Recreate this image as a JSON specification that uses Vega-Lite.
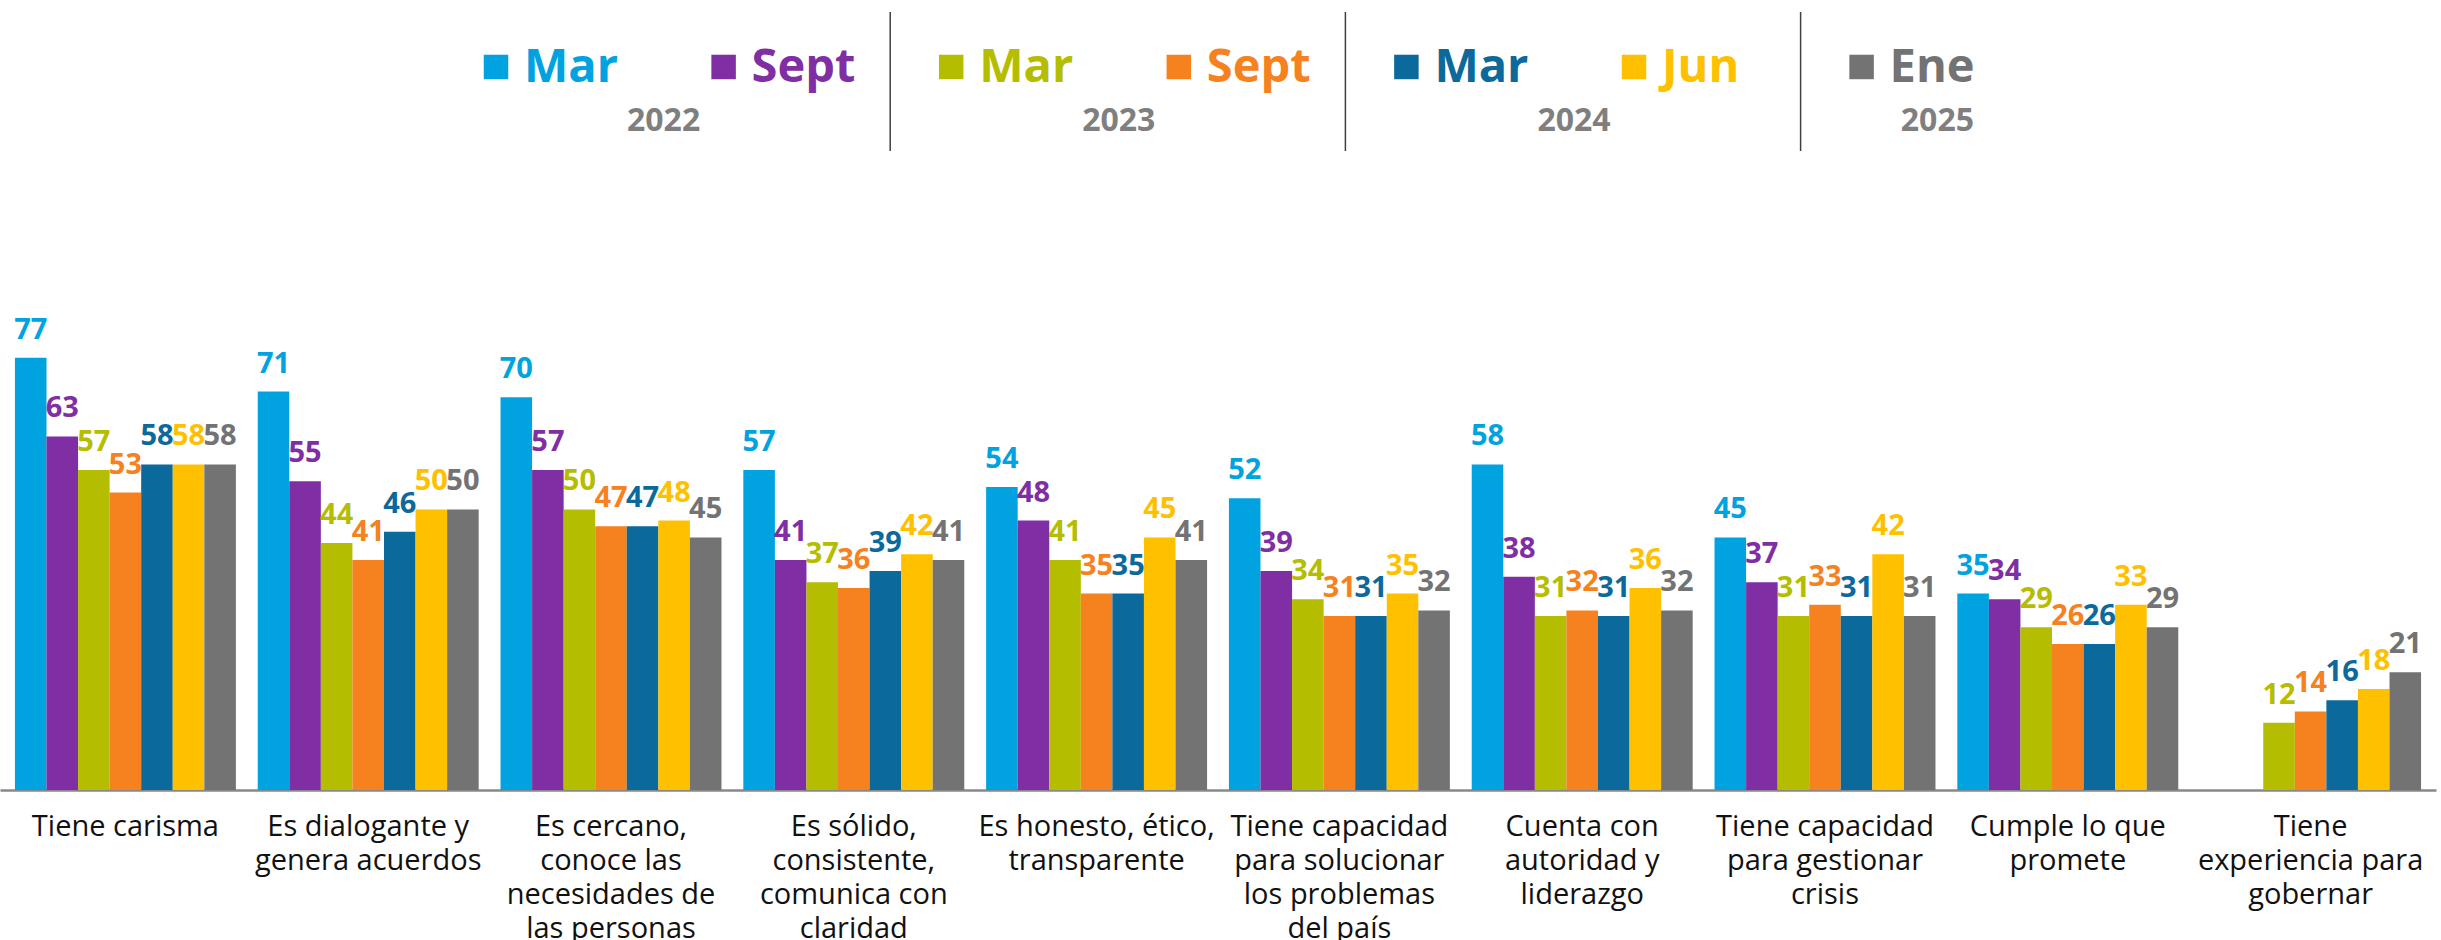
{
  "$schema": "https://vega.github.io/schema/vega-lite/v6.json",
  "background": "white",
  "padding": {"left": 0, "right": 5, "top": 11, "bottom": 0},
  "bounds": "flush",
  "spacing": 190,
  "config": {"view": {"stroke": null}, "font": "Open Sans"},
  "datasets": {
    "legend": [
      {"series": "Mar 2022", "label": "Mar"},
      {"series": "Sept 2022", "label": "Sept"},
      {"series": "Mar 2023", "label": "Mar"},
      {"series": "Sept 2023", "label": "Sept"},
      {"series": "Mar 2024", "label": "Mar"},
      {"series": "Jun 2024", "label": "Jun"},
      {"series": "Ene 2025", "label": "Ene"}
    ],
    "years": [
      {"year": "2022", "anchor": "Sept 2022"},
      {"year": "2023", "anchor": "Sept 2023"},
      {"year": "2024", "anchor": "Jun 2024"}
    ],
    "bars": [
      {"attr": "Tiene carisma", "series": "Mar 2022", "value": 77},
      {"attr": "Tiene carisma", "series": "Sept 2022", "value": 63},
      {"attr": "Tiene carisma", "series": "Mar 2023", "value": 57},
      {"attr": "Tiene carisma", "series": "Sept 2023", "value": 53},
      {"attr": "Tiene carisma", "series": "Mar 2024", "value": 58},
      {"attr": "Tiene carisma", "series": "Jun 2024", "value": 58},
      {"attr": "Tiene carisma", "series": "Ene 2025", "value": 58},
      {"attr": "Es dialogante y genera acuerdos", "series": "Mar 2022", "value": 71},
      {"attr": "Es dialogante y genera acuerdos", "series": "Sept 2022", "value": 55},
      {"attr": "Es dialogante y genera acuerdos", "series": "Mar 2023", "value": 44},
      {"attr": "Es dialogante y genera acuerdos", "series": "Sept 2023", "value": 41},
      {"attr": "Es dialogante y genera acuerdos", "series": "Mar 2024", "value": 46},
      {"attr": "Es dialogante y genera acuerdos", "series": "Jun 2024", "value": 50},
      {"attr": "Es dialogante y genera acuerdos", "series": "Ene 2025", "value": 50},
      {"attr": "Es cercano, conoce las necesidades de las personas", "series": "Mar 2022", "value": 70},
      {"attr": "Es cercano, conoce las necesidades de las personas", "series": "Sept 2022", "value": 57},
      {"attr": "Es cercano, conoce las necesidades de las personas", "series": "Mar 2023", "value": 50},
      {"attr": "Es cercano, conoce las necesidades de las personas", "series": "Sept 2023", "value": 47},
      {"attr": "Es cercano, conoce las necesidades de las personas", "series": "Mar 2024", "value": 47},
      {"attr": "Es cercano, conoce las necesidades de las personas", "series": "Jun 2024", "value": 48},
      {"attr": "Es cercano, conoce las necesidades de las personas", "series": "Ene 2025", "value": 45},
      {"attr": "Es sólido, consistente, comunica con claridad", "series": "Mar 2022", "value": 57},
      {"attr": "Es sólido, consistente, comunica con claridad", "series": "Sept 2022", "value": 41},
      {"attr": "Es sólido, consistente, comunica con claridad", "series": "Mar 2023", "value": 37},
      {"attr": "Es sólido, consistente, comunica con claridad", "series": "Sept 2023", "value": 36},
      {"attr": "Es sólido, consistente, comunica con claridad", "series": "Mar 2024", "value": 39},
      {"attr": "Es sólido, consistente, comunica con claridad", "series": "Jun 2024", "value": 42},
      {"attr": "Es sólido, consistente, comunica con claridad", "series": "Ene 2025", "value": 41},
      {"attr": "Es honesto, ético, transparente", "series": "Mar 2022", "value": 54},
      {"attr": "Es honesto, ético, transparente", "series": "Sept 2022", "value": 48},
      {"attr": "Es honesto, ético, transparente", "series": "Mar 2023", "value": 41},
      {"attr": "Es honesto, ético, transparente", "series": "Sept 2023", "value": 35},
      {"attr": "Es honesto, ético, transparente", "series": "Mar 2024", "value": 35},
      {"attr": "Es honesto, ético, transparente", "series": "Jun 2024", "value": 45},
      {"attr": "Es honesto, ético, transparente", "series": "Ene 2025", "value": 41},
      {"attr": "Tiene capacidad para solucionar los problemas del país", "series": "Mar 2022", "value": 52},
      {"attr": "Tiene capacidad para solucionar los problemas del país", "series": "Sept 2022", "value": 39},
      {"attr": "Tiene capacidad para solucionar los problemas del país", "series": "Mar 2023", "value": 34},
      {"attr": "Tiene capacidad para solucionar los problemas del país", "series": "Sept 2023", "value": 31},
      {"attr": "Tiene capacidad para solucionar los problemas del país", "series": "Mar 2024", "value": 31},
      {"attr": "Tiene capacidad para solucionar los problemas del país", "series": "Jun 2024", "value": 35},
      {"attr": "Tiene capacidad para solucionar los problemas del país", "series": "Ene 2025", "value": 32},
      {"attr": "Cuenta con autoridad y liderazgo", "series": "Mar 2022", "value": 58},
      {"attr": "Cuenta con autoridad y liderazgo", "series": "Sept 2022", "value": 38},
      {"attr": "Cuenta con autoridad y liderazgo", "series": "Mar 2023", "value": 31},
      {"attr": "Cuenta con autoridad y liderazgo", "series": "Sept 2023", "value": 32},
      {"attr": "Cuenta con autoridad y liderazgo", "series": "Mar 2024", "value": 31},
      {"attr": "Cuenta con autoridad y liderazgo", "series": "Jun 2024", "value": 36},
      {"attr": "Cuenta con autoridad y liderazgo", "series": "Ene 2025", "value": 32},
      {"attr": "Tiene capacidad para gestionar crisis", "series": "Mar 2022", "value": 45},
      {"attr": "Tiene capacidad para gestionar crisis", "series": "Sept 2022", "value": 37},
      {"attr": "Tiene capacidad para gestionar crisis", "series": "Mar 2023", "value": 31},
      {"attr": "Tiene capacidad para gestionar crisis", "series": "Sept 2023", "value": 33},
      {"attr": "Tiene capacidad para gestionar crisis", "series": "Mar 2024", "value": 31},
      {"attr": "Tiene capacidad para gestionar crisis", "series": "Jun 2024", "value": 42},
      {"attr": "Tiene capacidad para gestionar crisis", "series": "Ene 2025", "value": 31},
      {"attr": "Cumple lo que promete", "series": "Mar 2022", "value": 35},
      {"attr": "Cumple lo que promete", "series": "Sept 2022", "value": 34},
      {"attr": "Cumple lo que promete", "series": "Mar 2023", "value": 29},
      {"attr": "Cumple lo que promete", "series": "Sept 2023", "value": 26},
      {"attr": "Cumple lo que promete", "series": "Mar 2024", "value": 26},
      {"attr": "Cumple lo que promete", "series": "Jun 2024", "value": 33},
      {"attr": "Cumple lo que promete", "series": "Ene 2025", "value": 29},
      {"attr": "Tiene experiencia para gobernar", "series": "Mar 2023", "value": 12},
      {"attr": "Tiene experiencia para gobernar", "series": "Sept 2023", "value": 14},
      {"attr": "Tiene experiencia para gobernar", "series": "Mar 2024", "value": 16},
      {"attr": "Tiene experiencia para gobernar", "series": "Jun 2024", "value": 18},
      {"attr": "Tiene experiencia para gobernar", "series": "Ene 2025", "value": 21}
    ]
  },
  "vconcat": [
    {
      "width": 2436,
      "height": 139,
      "layer": [
        {
          "data": {"name": "legend"},
          "transform": [{"filter": "datum.series == 'Mar 2023' || datum.series == 'Mar 2024' || datum.series == 'Ene 2025'"}],
          "mark": {"type": "rule", "color": "#404040", "strokeWidth": 1.5, "xOffset": -29},
          "encoding": {
            "x": {"field": "series", "type": "nominal", "bandPosition": 0, "axis": null,
                  "scale": {"type": "band", "domain": ["Mar 2022", "Sept 2022", "Mar 2023", "Sept 2023", "Mar 2024", "Jun 2024", "Ene 2025"], "paddingInner": 0, "paddingOuter": 0, "range": [464, 2057.2]}}
          }
        },
        {
          "data": {"name": "legend"},
          "mark": {"type": "point", "shape": "square", "filled": true, "opacity": 1, "size": 600, "xOffset": 32},
          "encoding": {
            "x": {"field": "series", "type": "nominal", "bandPosition": 0, "axis": null},
            "y": {"datum": "item", "type": "nominal", "axis": null,
                  "scale": {"type": "point", "domain": ["item", "year"], "padding": 0.586, "align": 0.733}},
            "color": {"field": "series", "type": "nominal", "legend": null,
                      "scale": {"domain": ["Mar 2022", "Sept 2022", "Mar 2023", "Sept 2023", "Mar 2024", "Jun 2024", "Ene 2025"],
                                "range": ["#00A3E0", "#7F2FA3", "#B5BD00", "#F5821F", "#0B699C", "#FFC000", "#737373"]}}
          }
        },
        {
          "data": {"name": "legend"},
          "mark": {"type": "text", "align": "left", "baseline": "alphabetic", "dx": 60, "dy": 15, "fontSize": 47, "fontWeight": "bold"},
          "encoding": {
            "x": {"field": "series", "type": "nominal", "bandPosition": 0, "axis": null},
            "y": {"datum": "item", "type": "nominal", "axis": null},
            "text": {"field": "label"},
            "color": {"field": "series", "type": "nominal", "legend": null}
          }
        },
        {
          "data": {"name": "years"},
          "mark": {"type": "text", "align": "center", "baseline": "alphabetic", "dx": -28, "fontSize": 32, "fontWeight": "bold", "color": "#7F7F7F"},
          "encoding": {
            "x": {"field": "anchor", "type": "nominal", "bandPosition": 0, "axis": null},
            "y": {"datum": "year", "type": "nominal", "axis": null},
            "text": {"field": "year"}
          }
        },
        {
          "data": {"values": [{"year": "2025", "anchor": "Ene 2025"}]},
          "mark": {"type": "text", "align": "center", "baseline": "alphabetic", "dx": -6, "fontSize": 32, "fontWeight": "bold", "color": "#7F7F7F"},
          "encoding": {
            "x": {"field": "anchor", "type": "nominal", "bandPosition": 0.5, "axis": null},
            "y": {"datum": "year", "type": "nominal", "axis": null},
            "text": {"field": "year"}
          }
        }
      ]
    },
    {
      "width": 2436,
      "height": 449,
      "data": {"name": "bars"},
      "encoding": {
        "x": {
          "field": "attr", "type": "nominal", "title": null,
          "scale": {"paddingInner": 0.09, "paddingOuter": 0.0615,
                    "domain": ["Tiene carisma", "Es dialogante y genera acuerdos", "Es cercano, conoce las necesidades de las personas", "Es sólido, consistente, comunica con claridad", "Es honesto, ético, transparente", "Tiene capacidad para solucionar los problemas del país", "Cuenta con autoridad y liderazgo", "Tiene capacidad para gestionar crisis", "Cumple lo que promete", "Tiene experiencia para gobernar"]},
          "axis": {
            "labelAngle": 0, "ticks": false, "labelPadding": 22, "labelFontSize": 29, "labelColor": "#111111",
            "labelFont": "Open Sans", "labelLimit": 400, "labelOverlap": false, "labelBound": false,
            "labelLineHeight": 34, "labelBaseline": "top",
            "domainColor": "#888888", "domainWidth": 2.5, "grid": false,
            "labelExpr": "datum.value == 'Es dialogante y genera acuerdos' ? ['Es dialogante y', 'genera acuerdos'] : datum.value == 'Es cercano, conoce las necesidades de las personas' ? ['Es cercano,', 'conoce las', 'necesidades de', 'las personas'] : datum.value == 'Es sólido, consistente, comunica con claridad' ? ['Es sólido,', 'consistente,', 'comunica con', 'claridad'] : datum.value == 'Es honesto, ético, transparente' ? ['Es honesto, ético,', 'transparente'] : datum.value == 'Tiene capacidad para solucionar los problemas del país' ? ['Tiene capacidad', 'para solucionar', 'los problemas', 'del país'] : datum.value == 'Cuenta con autoridad y liderazgo' ? ['Cuenta con', 'autoridad y', 'liderazgo'] : datum.value == 'Tiene capacidad para gestionar crisis' ? ['Tiene capacidad', 'para gestionar', 'crisis'] : datum.value == 'Cumple lo que promete' ? ['Cumple lo que', 'promete'] : datum.value == 'Tiene experiencia para gobernar' ? ['Tiene', 'experiencia para', 'gobernar'] : datum.value"
          }
        },
        "xOffset": {
          "field": "series", "type": "nominal",
          "scale": {"domain": ["Mar 2022", "Sept 2022", "Mar 2023", "Sept 2023", "Mar 2024", "Jun 2024", "Ene 2025"], "paddingInner": 0, "paddingOuter": 0}
        },
        "y": {"field": "value", "type": "quantitative", "axis": null, "scale": {"domain": [0, 80], "nice": false, "zero": true}},
        "color": {
          "field": "series", "type": "nominal", "legend": null,
          "scale": {"domain": ["Mar 2022", "Sept 2022", "Mar 2023", "Sept 2023", "Mar 2024", "Jun 2024", "Ene 2025"],
                    "range": ["#00A3E0", "#7F2FA3", "#B5BD00", "#F5821F", "#0B699C", "#FFC000", "#737373"]}
        }
      },
      "layer": [
        {"mark": {"type": "bar"}},
        {
          "mark": {"type": "text", "align": "center", "baseline": "alphabetic", "dy": -19, "fontSize": 29, "fontWeight": "bold"},
          "encoding": {"text": {"field": "value", "type": "quantitative"}}
        }
      ]
    }
  ],
  "resolve": {"scale": {"color": "shared"}}
}
